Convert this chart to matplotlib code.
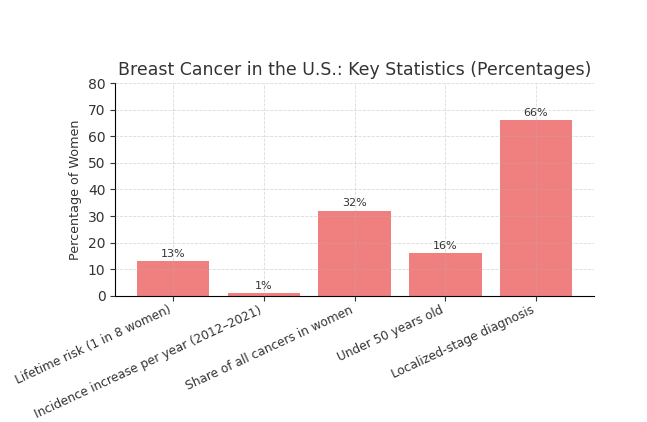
import matplotlib
matplotlib.use("Agg")
import matplotlib.pyplot as plt

categories = [
    "Lifetime risk (1 in 8 women)",
    "Incidence increase per year (2012–2021)",
    "Share of all cancers in women",
    "Under 50 years old",
    "Localized-stage diagnosis",
]
values = [13, 1, 32, 16, 66]
bar_labels = ["13%", "1%", "32%", "16%", "66%"]
yticks = [0, 10, 20, 30, 40, 50, 60, 70, 80]

fig = plt.figure(figsize=(6.47, 4.22), dpi=100)
ax = fig.add_axes([0.178, 0.299, 0.740, 0.504])

bars = ax.bar(categories, values, color="lightcoral", width=0.8)
for bar, lab in zip(bars, bar_labels):
    ax.text(bar.get_x() + bar.get_width() / 2, bar.get_height() + 1, lab,
            ha="center", va="bottom", fontsize=8, color="#333333")

ax.set_ylim(0, 80)
ax.set_yticks(yticks)
ax.set_title("Breast Cancer in the U.S.: Key Statistics (Percentages)",
             fontsize=12.5, color="#333333", pad=6)
ax.set_ylabel("Percentage of Women", fontsize=9.2, color="#333333")
ax.tick_params(axis="y", labelsize=10, colors="#333333")
ax.tick_params(axis="x", labelsize=8.7, colors="#333333", pad=2)
plt.setp(ax.get_xticklabels(), rotation=25, ha="right")
ax.grid(True, linestyle="--", alpha=0.45, linewidth=0.6)
ax.set_axisbelow(False)
for s in ["top", "right"]:
    ax.spines[s].set_visible(False)

fig.savefig("out.png", dpi=100)
